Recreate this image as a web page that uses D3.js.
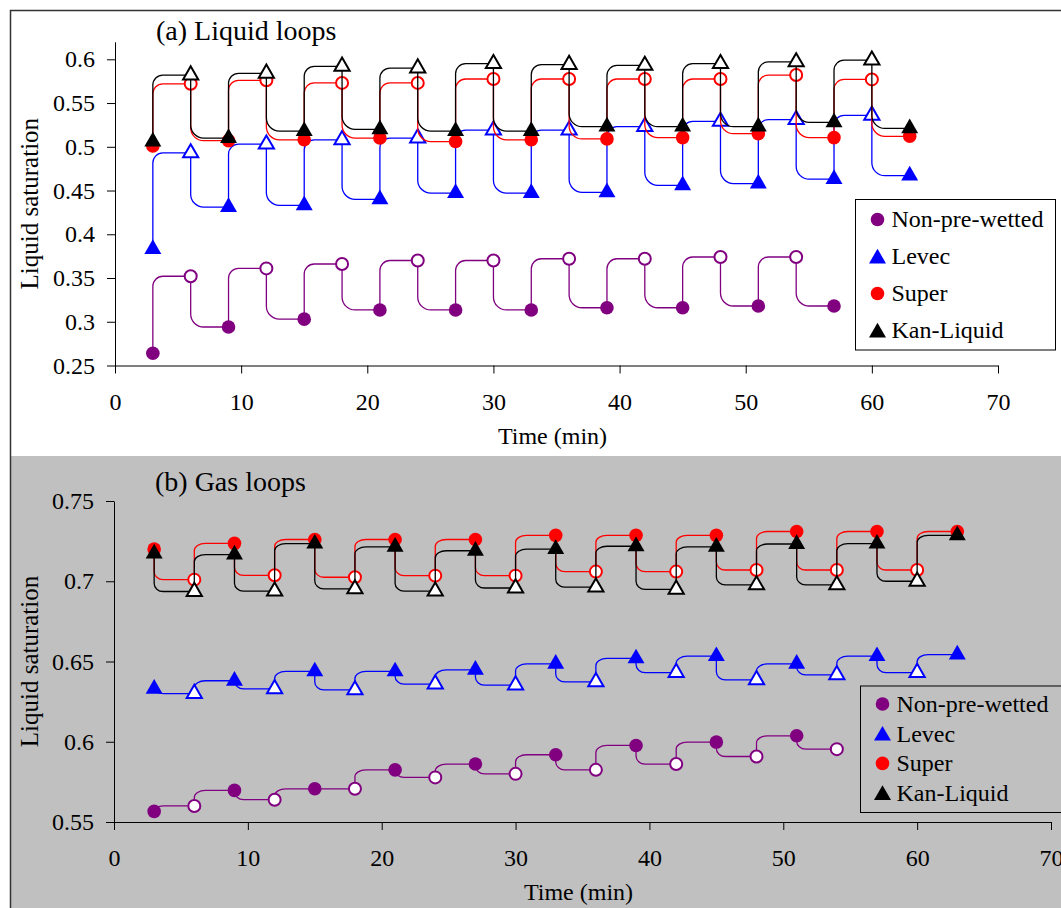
<!DOCTYPE html>
<html>
<head>
<meta charset="utf-8">
<script src="https://cdn.jsdelivr.net/npm/d3@7"></script>
<style>
body { margin: 0; background: #fff; }
</style>
</head>
<body>
<div id="chart"></div>
<script>
// time axis (min)
var xTicks = [0, 10, 20, 30, 40, 50, 60, 70];
var timeLong = [3, 6, 9, 12, 15, 18, 21, 24, 27, 30, 33, 36, 39, 42, 45, 48, 51, 54, 57, 60, 63];

var seriesNames = ["Non-pre-wetted", "Levec", "Super", "Kan-Liquid"];
var seriesColors = ["#800080", "#0000ff", "#ff0000", "#000000"];
var seriesShapes = ["circle", "triangle", "circle", "triangle"];

// (a) liquid loops
var yTicksA = [0.25, 0.3, 0.35, 0.4, 0.45, 0.5, 0.55, 0.6];
var nonPreA = [0.264, 0.352, 0.294, 0.361, 0.303, 0.366, 0.3135, 0.370, 0.3135, 0.370, 0.3135,
  0.372, 0.316, 0.372, 0.316, 0.374, 0.318, 0.374, 0.318];
var levecA = [0.383, 0.493, 0.431, 0.503, 0.433, 0.508, 0.440, 0.510, 0.447, 0.519, 0.447,
  0.519, 0.448, 0.523, 0.456, 0.529, 0.458, 0.531, 0.463, 0.536, 0.467];
var superA = [0.501, 0.572, 0.507, 0.576, 0.508, 0.573, 0.510, 0.573, 0.506, 0.5775, 0.508,
  0.5775, 0.509, 0.5775, 0.5105, 0.5775, 0.515, 0.582, 0.5105, 0.577, 0.512];
var kanA = [0.506, 0.582, 0.510, 0.584, 0.518, 0.592, 0.520, 0.590, 0.518, 0.595, 0.518,
  0.594, 0.523, 0.593, 0.523, 0.595, 0.523, 0.597, 0.528, 0.599, 0.521];

// (b) gas loops
var yTicksB = [0.55, 0.6, 0.65, 0.7, 0.75];
var nonPreB = [0.5566, 0.560, 0.5697, 0.5639, 0.5707, 0.5707, 0.5825, 0.5778, 0.5861, 0.580,
  0.5919, 0.5825, 0.5977, 0.5861, 0.5998, 0.5908, 0.6037, 0.5954];
var levecB = [0.633, 0.630, 0.638, 0.633, 0.6438, 0.6323, 0.6438, 0.6359, 0.6448, 0.6353, 0.6485,
  0.6373, 0.6519, 0.6431, 0.6533, 0.6386, 0.6485, 0.6417, 0.6533, 0.6431, 0.6543];
var superB = [0.720, 0.701, 0.7236, 0.7037, 0.726, 0.7025, 0.726, 0.7035, 0.726, 0.7035, 0.7286,
  0.706, 0.7286, 0.706, 0.7286, 0.707, 0.731, 0.707, 0.731, 0.707, 0.731];
var kanB = [0.7172, 0.6936, 0.7166, 0.6938, 0.7234, 0.6952, 0.7214, 0.6938, 0.719, 0.6958, 0.720,
  0.6963, 0.7218, 0.695, 0.7214, 0.6977, 0.7232, 0.6977, 0.7234, 0.700, 0.7286];

var svgWidth = 1061;
var svgHeight = 908;
var serif = "'Liberation Serif', 'Times New Roman', Times, serif";

var svg = d3.select("#chart")
  .append("svg")
  .attr("width", svgWidth)
  .attr("height", svgHeight);

// frame + grey lower panel
svg.append("rect")
  .attr("x", 10).attr("y", 456)
  .attr("width", svgWidth - 10).attr("height", svgHeight - 456)
  .attr("fill", "#c0c0c0");
svg.append("path")
  .attr("d", `M${svgWidth},10.5 H10.5 V${svgHeight}`)
  .attr("fill", "none")
  .attr("stroke", "#333")
  .attr("stroke-width", 1.5);

// rounded step between two readings
function stepPath(pts, x, y, p) {
  var d = "M" + x(pts[0].t) + "," + y(pts[0].v);
  for (var i = 0; i < pts.length - 1; i++) {
    var x0 = x(pts[i].t), y0 = y(pts[i].v);
    var x1 = x(pts[i + 1].t), y1 = y(pts[i + 1].v);
    var c = pts[i].open ? p.fromOpen : p.fromFilled;
    var dir = y1 > y0 ? 1 : -1;
    var ry = Math.min(c.ry, Math.abs(y1 - y0));
    var rx = Math.min(c.rx, x1 - x0);
    d += " L" + x0 + "," + (y1 - dir * ry);
    d += " C" + x0 + "," + (y1 - dir * ry * 0.45) + " " + (x0 + rx * 0.45) + "," + y1 + " " + (x0 + rx) + "," + y1;
    d += " L" + x1 + "," + y1;
  }
  return d;
}

function drawMarker(g, shape, color, open, cx, cy) {
  if (shape == "circle") {
    g.append("circle")
      .attr("cx", cx).attr("cy", cy)
      .attr("r", open ? 6 : 6.8)
      .attr("fill", open ? "#fff" : color)
      .attr("stroke", open ? color : "none")
      .attr("stroke-width", 2);
  } else {
    g.append("path")
      .attr("d", d3.symbol().type(d3.symbolTriangle).size(open ? 100 : 125)())
      .attr("transform", `translate(${cx},${cy})`)
      .attr("fill", open ? "#fff" : color)
      .attr("stroke", open ? color : "none")
      .attr("stroke-width", 2);
  }
}

function drawPanel(p) {
  var x = d3.scaleLinear().domain([0, 70]).range([p.x0, p.x1]);
  var y = d3.scaleLinear().domain(p.yDomain).range([p.y0, p.y1]);

  var xAxis = svg.append("g")
    .attr("transform", `translate(0, ${p.y0})`)
    .call(d3.axisBottom(x).tickValues(xTicks).tickSize(8).tickSizeOuter(0)
      .tickPadding(19).tickFormat(d => String(d)));
  var yAxis = svg.append("g")
    .attr("transform", `translate(${p.x0}, 0)`)
    .call(d3.axisLeft(y).tickValues(p.yTicks).tickSize(8).tickSizeOuter(0)
      .tickPadding(12).tickFormat(d => String(d)));
  [xAxis, yAxis].forEach(function(a) {
    a.attr("font-size", 24).attr("font-family", serif);
    a.selectAll("path, line").attr("stroke", "#000");
  });

  p.series.forEach(function(vals, si) {
    var pts = vals.map(function(v, i) {
      return { t: timeLong[i], v: v, open: i % 2 == 1 };
    });
    var g = svg.append("g");
    g.append("path")
      .attr("d", stepPath(pts, x, y, p))
      .attr("fill", "none")
      .attr("stroke", seriesColors[si])
      .attr("stroke-width", 1.3);
    pts.forEach(function(d) {
      drawMarker(g, seriesShapes[si], seriesColors[si], d.open, x(d.t), y(d.v));
    });
  });

  // titles
  svg.append("text")
    .attr("x", p.titleX).attr("y", p.titleY)
    .attr("font-size", 28)
    .text(p.title);
  svg.append("text")
    .attr("x", (p.x0 + p.x1) / 2 - 4).attr("y", p.y0 + 78)
    .attr("text-anchor", "middle")
    .attr("font-size", 24)
    .text("Time (min)");
  svg.append("text")
    .attr("transform", `translate(38, ${(p.y0 + p.y1) / 2}) rotate(-90)`)
    .attr("text-anchor", "middle")
    .attr("font-size", 25)
    .text("Liquid saturation");

  // legend
  var lg = svg.append("g");
  lg.append("rect")
    .attr("x", p.legX).attr("y", p.legY)
    .attr("width", p.legW).attr("height", p.legH)
    .attr("fill", p.legFill)
    .attr("stroke", "#000")
    .attr("stroke-width", 1);
  seriesNames.forEach(function(name, i) {
    var cy = p.legY + p.legFirst + i * p.legStep;
    drawMarker(lg, seriesShapes[i], seriesColors[i], false, p.legX + 22, cy + (seriesShapes[i] == "triangle" ? 2 : 0));
    lg.append("text")
      .attr("x", p.legX + 36).attr("y", cy)
      .attr("dy", "0.33em")
      .attr("font-size", 24)
      .text(name);
  });
}

drawPanel({
  title: "(a) Liquid loops", titleX: 156, titleY: 40,
  x0: 115, x1: 998, y0: 365.5, y1: 41.8,
  yDomain: [0.25, 0.62], yTicks: yTicksA,
  series: [nonPreA, levecA, superA, kanA],
  fromFilled: { rx: 10, ry: 10 }, fromOpen: { rx: 13, ry: 13 },
  legX: 855.5, legY: 199.5, legW: 200, legH: 150.5, legFill: "#fff",
  legFirst: 20, legStep: 37
});

drawPanel({
  title: "(b) Gas loops", titleX: 155, titleY: 491,
  x0: 114, x1: 1051, y0: 822, y1: 501,
  yDomain: [0.55, 0.75], yTicks: yTicksB,
  series: [nonPreB, levecB, superB, kanB],
  fromFilled: { rx: 9, ry: 8 }, fromOpen: { rx: 11, ry: 7 },
  legX: 860.5, legY: 686, legW: 220, legH: 126.5, legFill: "#c0c0c0",
  legFirst: 18, legStep: 29.7
});

// all text in the serif face
svg.selectAll("text")
  .style("font-family", serif)
  .style("fill", "#000");
</script>
</body>
</html>
